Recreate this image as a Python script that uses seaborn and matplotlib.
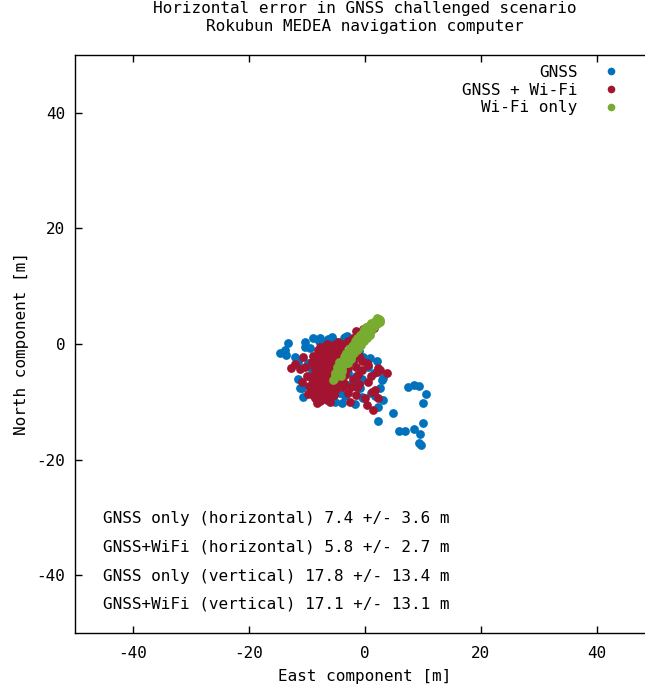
import matplotlib
matplotlib.use("Agg")
import matplotlib.pyplot as plt
from matplotlib.lines import Line2D
import seaborn as sns
import pandas as pd

# ---------------- data ----------------
gnss_x = [-14.7, -13.8, -13.3, -13.6, -14.0, -10.3, -9.0, -6.4, -4.8, -3.1, -3.6, -8.0, -5.5,
          -11.6, -11.2, -10.7, -9.0, -6.6, -4.0, -5.2, -0.5, -0.9, 2.2, 2.6, 2.9, 3.1, 0.9, -0.3,
          2.2, 4.8, 7.4, 8.4, 9.3, 10.5, 10.0, 10.0, 8.4, 5.9, 6.9, 9.5, 9.3, 9.7,
          -9.5, -7.8, -10.3, -10.9, -9.5, -9.8, -9.1, -7.2, -5.7, -3.4, -0.9, -0.3, -5.5, -6.0,
          -4.3, 3.1, -8.5, -7.0, -6.0, -4.5, -3.0, -2.0, -1.5, -7.5, -5.5, -3.5, -2.5, -0.5,
          1.5, 1.0, -1.8, -7.8, 0.5, 2.0, -0.5, -2.0, -6.8, -9.5, -12.0, -11.5, -1.0, 1.8]
gnss_y = [-1.6, -1.0, 0.2, -1.9, -1.4, 0.3, 1.0, 0.9, 0.3, 1.4, 1.0, 0.5, 0.6,
          -3.1, -7.6, -9.1, -5.7, -9.7, -10.2, -10.0, -9.1, -7.6, -10.9, -7.6, -6.2, -5.9, -2.4, -2.2,
          -13.4, -11.9, -7.4, -7.1, -7.2, -8.6, -10.2, -13.6, -14.7, -15.0, -15.0, -15.5, -17.1, -17.4,
          -0.7, 1.0, -0.5, -7.6, -8.3, -3.3, -4.5, 0.2, 1.2, 1.2, -6.6, -9.3, -7.9, -9.7,
          -8.4, -9.7, -2.5, -1.5, -3.5, -2.0, -5.0, -3.0, -5.5, -7.0, -8.5, -9.0, -7.0, -6.0,
          -5.0, -8.5, -10.3, -9.5, -4.0, -3.0, 0.5, 0.8, -5.0, -3.5, -2.2, -6.0, -1.2, -9.0]

wifi_gnss_x = [-12.8, -10.7, -10.9, -10.3, -9.8, -8.3, -7.8, -4.7, -11.2, -9.6, -10.0, -9.0, -12.0,
               -8.1, -7.2, -6.1, -5.2, -4.3, -8.9, -8.0, -7.1, -6.0, -5.1, -4.0, -3.2,
               -9.2, -8.3, -7.4, -6.5, -5.6, -4.6, -3.7, -2.6, -8.8, -7.9, -6.9, -5.8, -4.9, -3.9, -3.0,
               -8.6, -7.6, -6.6, -5.4, -4.4, -3.5, -9.1, -8.1, -7.2, -6.2, -5.2, -4.1,
               -8.5, -7.5, -6.4, -5.5, -4.6, -3.6, -9.0, -8.0, -7.0, -6.1, -5.0,
               -8.2, -7.3, -6.3, -5.3, -7.8, -6.8, -8.7, -6.0,
               -2.0, -1.0, -1.5, -0.5, 0.3, 0.5, 2.0, 2.2, 3.8, 1.7, 2.2, 0.0, 0.3, -2.6, -1.2,
               -2.0, -1.0, -2.5, -3.0, -1.5, 0.5, 1.0, -0.5, 1.2, 1.4, -3.4, -1.4, -3.8, 2.6,
               -3.0, -2.0, -1.0, 0.0, 0.3, -0.9, 1.0, -1.5, -0.3, -2.0, -1.0, 0.9, 1.5, -4.0, -5.5, -6.5,
               -7.6, -6.7, -5.7, -4.8, -3.9, -7.0, -6.2, -5.0, -7.4, -6.4, -5.6]
wifi_gnss_y = [-4.1, -2.2, -6.6, -4.0, -8.6, -10.2, -0.5, 0.3, -4.3, -7.2, -5.5, -8.8, -3.5,
               -1.0, -0.8, -1.2, -0.9, -1.1, -2.0, -2.2, -1.9, -2.1, -2.0, -2.3, -1.8,
               -3.1, -2.9, -3.0, -3.2, -2.8, -3.1, -3.0, -2.9, -4.0, -4.1, -3.9, -4.2, -4.0, -3.8, -4.1,
               -5.0, -5.2, -4.9, -5.1, -5.0, -5.3, -6.0, -6.1, -5.9, -6.2, -6.0, -6.1,
               -7.0, -7.1, -6.9, -7.2, -7.0, -6.8, -8.0, -7.9, -8.1, -8.0, -7.8,
               -9.0, -8.9, -9.1, -8.8, -9.8, -9.6, -9.4, -10.0,
               -3.0, -2.0, -4.0, -3.0, -3.3, -3.6, -4.8, -4.1, -5.0, -7.9, -9.3, -9.3, -10.5, -10.0, -5.3,
               -6.0, -7.0, -7.5, -8.5, -8.8, -6.5, -5.5, -4.5, -8.3, -11.4, -4.8, -7.4, -7.4, -4.5,
               0.5, 1.0, 1.5, 2.0, 2.9, 1.2, 2.5, 2.2, 2.6, -0.5, 0.2, 3.3, 2.8, 0.0, -0.2, 0.0,
               -1.6, -1.5, -1.6, -1.5, -1.4, -3.6, -3.5, -3.4, -5.6, -5.7, -5.5]

wifi_x = [-5.4, -5.0, -5.1, -4.6, -4.5, -4.0, -4.2, -3.6, -3.5, -3.0, -3.1, -2.5, -2.6, -2.0,
          -2.1, -1.5, -1.6, -1.0, -1.1, -0.5, -0.6, 0.0, 0.1, 0.5, 0.6, 1.0, 1.2, 1.6, 1.8, 2.1,
          2.2, 2.5, 2.4, 2.6, -4.8, -3.8, -2.8, -1.8, -0.8, 0.3, 1.4, -2.2, -3.3, -1.2, -0.2,
          0.8, -4.3, -3.0, -1.9, -0.7, 0.4, -5.2, -3.9, -2.4, -1.3,
          -4.9, -3.7, -2.7, -1.7, -0.4, 0.7, 1.7, -3.2, -2.3, -1.4, -0.1, 1.1, -5.6, -4.1, 2.0,
          -4.4, -3.4, -2.0, -0.9, 0.2]
wifi_y = [-6.0, -5.6, -5.0, -5.2, -4.4, -4.2, -3.6, -3.5, -2.8, -2.6, -2.0, -2.0, -1.3, -1.2,
          -0.6, -0.5, 0.1, 0.0, 0.7, 0.6, 1.3, 1.2, 1.9, 1.7, 2.4, 2.3, 3.0, 2.9, 3.5, 3.4,
          4.0, 3.8, 4.4, 4.2, -4.7, -3.0, -1.6, -0.2, 1.0, 2.2, 3.3, -1.8, -3.3, -0.8, 0.6,
          1.6, -4.9, -3.3, -1.5, -0.2, 1.0, -5.6, -4.6, -2.6, -1.0,
          -3.9, -2.2, -0.8, 0.6, 2.0, 3.2, 4.0, -1.6, -0.3, 1.1, 2.6, 3.6, -6.2, -5.6, 4.5,
          -3.2, -1.9, -0.1, 1.5, 2.9]

series_names = ["GNSS", "GNSS + Wi-Fi", "Wi-Fi only"]
series_colors = ["#0072bd", "#a2142f", "#77ac30"]

stats_lines = ["GNSS only (horizontal) 7.4 +/- 3.6 m",
               "GNSS+WiFi (horizontal) 5.8 +/- 2.7 m",
               "GNSS only (vertical) 17.8 +/- 13.4 m",
               "GNSS+WiFi (vertical) 17.1 +/- 13.1 m"]
stats_y = [-30.2, -35.2, -40.2, -45.0]

ticks = [-40, -20, 0, 20, 40]

# ---------------- plotting ----------------
sns.set_style("ticks")
plt.rcParams["font.family"] = ["DejaVu Sans Mono"]
plt.rcParams["axes.unicode_minus"] = False
plt.rcParams["text.color"] = "black"
plt.rcParams["axes.labelcolor"] = "black"
FS = 11.5

fig = plt.figure(figsize=(6.45, 6.93), dpi=100)
ax = fig.add_axes([75 / 645, 60 / 693, 580 / 645, 578 / 693])

frames = [pd.DataFrame({"x": gnss_x, "y": gnss_y}),
          pd.DataFrame({"x": wifi_gnss_x, "y": wifi_gnss_y}),
          pd.DataFrame({"x": wifi_x, "y": wifi_y})]
for df, c in zip(frames, series_colors):
    sns.scatterplot(data=df, x="x", y="y", ax=ax, color=c, s=40, linewidth=0, legend=False)

ax.set_xlim(-50, 50)
ax.set_ylim(-50, 50)
ax.set_xticks(ticks)
ax.set_yticks(ticks)
ax.tick_params(direction="in", top=True, right=True, length=5, width=1,
               labelsize=FS, colors="black")
ax.tick_params(axis="x", pad=9)
ax.tick_params(axis="y", pad=7)
for sp in ax.spines.values():
    sp.set_visible(True)
    sp.set_linewidth(1)
    sp.set_color("black")

ax.set_xlabel("East component [m]", fontsize=FS, labelpad=6)
ax.set_ylabel("North component [m]", fontsize=FS, labelpad=5)

fig.text(365 / 645, 1 - 8 / 693, "Horizontal error in GNSS challenged scenario",
         ha="center", va="center", fontsize=FS)
fig.text(365 / 645, 1 - 27 / 693, "Rokubun MEDEA navigation computer",
         ha="center", va="center", fontsize=FS)

for txt, yy in zip(stats_lines, stats_y):
    ax.text(-45.2, yy, txt, ha="left", va="center", fontsize=FS)

handles = [Line2D([], [], marker="o", linestyle="", color=c, markersize=5.5, markeredgewidth=0)
           for c in series_colors]
leg = ax.legend(handles, series_names, loc="upper right", markerfirst=False, frameon=False,
                fontsize=FS, labelspacing=0.16, handlelength=1.0, handletextpad=1.6,
                bbox_to_anchor=(627 / 645, 1 - 57 / 693), bbox_transform=fig.transFigure,
                borderpad=0)
for t in leg.get_texts():
    t.set_ha("right")

fig.savefig("out.png", dpi=100)
